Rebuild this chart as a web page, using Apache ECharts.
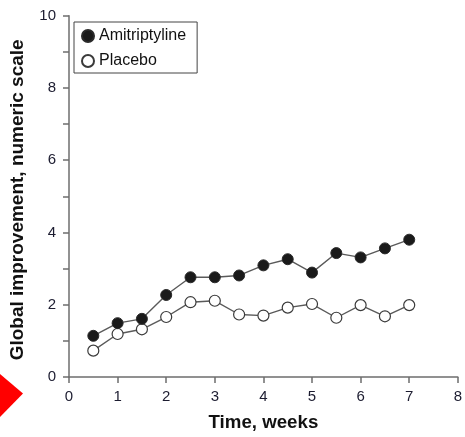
<!DOCTYPE html>
<html>
<head>
<meta charset="utf-8">
<script src="https://cdn.jsdelivr.net/npm/echarts@6/dist/echarts.min.js"></script>
<style>html,body{margin:0;padding:0;background:#fff;}#c{width:465px;height:437px;}</style>
</head>
<body>
<div id="c"></div>
<script>
const weeks = [0.5, 1, 1.5, 2, 2.5, 3, 3.5, 4, 4.5, 5, 5.5, 6, 6.5, 7];
const amitriptyline = [1.14, 1.49, 1.61, 2.27, 2.76, 2.76, 2.81, 3.09, 3.26, 2.89, 3.43, 3.31, 3.56, 3.80];
const placebo = [0.73, 1.19, 1.32, 1.66, 2.07, 2.11, 1.73, 1.70, 1.92, 2.02, 1.64, 1.99, 1.68, 1.99];
const yLabels = [0, 2, 4, 6, 8, 10];

const chart = echarts.init(document.getElementById('c'));
const axisColor = '#6e6e6e';
const labelColor = '#1c1c30';
chart.setOption({
  animation: false,
  backgroundColor: '#fff',
  grid: { left: 68.7, right: 3.5, top: 15.7, bottom: 53.3, containLabel: false },
  legend: {
    left: 74, top: 22, orient: 'vertical',
    backgroundColor: '#fff',
    borderColor: '#444', borderWidth: 1,
    padding: [5, 11, 3, 7],
    itemGap: 7,
    itemWidth: 12, itemHeight: 12,
    textStyle: { fontFamily: 'Liberation Sans, Arial', fontSize: 16, color: '#111', lineHeight: 18 },
    data: [
      { name: 'Amitriptyline', icon: 'circle' },
      { name: 'Placebo', icon: 'circle' }
    ]
  },
  xAxis: {
    type: 'value', min: 0, max: 8, interval: 1,
    name: 'Time, weeks', nameLocation: 'middle', nameGap: 36,
    nameTextStyle: { fontFamily: 'Liberation Sans, Arial', fontWeight: 'bold', fontSize: 18.7, color: '#111' },
    axisLine: { show: true, lineStyle: { color: axisColor, width: 1.5 } },
    axisTick: { show: true, length: 6, lineStyle: { color: axisColor, width: 1.5 } },
    axisLabel: { margin: 12, fontFamily: 'Liberation Sans, Arial', fontSize: 15, color: labelColor, showMaxLabel: true, showMinLabel: true },
    splitLine: { show: false }
  },
  yAxis: {
    type: 'value', min: 0, max: 10, interval: 1,
    name: 'Global improvement, numeric scale', nameLocation: 'middle', nameGap: 42,
    nameTextStyle: { fontFamily: 'Liberation Sans, Arial', fontWeight: 'bold', fontSize: 19, color: '#111', padding: [0, 7, 0, 0] },
    axisLine: { show: true, lineStyle: { color: axisColor, width: 1.5 } },
    axisTick: { show: true, length: 6, lineStyle: { color: axisColor, width: 1.5 } },
    axisLabel: {
      margin: 13, fontFamily: 'Liberation Sans, Arial', fontSize: 15, color: labelColor,
      formatter: v => (yLabels.indexOf(v) >= 0 ? String(v) : '')
    },
    splitLine: { show: false }
  },
  series: [
    {
      name: 'Amitriptyline', type: 'line',
      data: weeks.map((w, i) => [w, amitriptyline[i]]),
      symbol: 'circle', symbolSize: 11,
      lineStyle: { color: '#5a5a5a', width: 1.4 },
      itemStyle: { color: '#1a1a1a', borderColor: '#2a2a2a', borderWidth: 1 },
      z: 3
    },
    {
      name: 'Placebo', type: 'line',
      data: weeks.map((w, i) => [w, placebo[i]]),
      symbol: 'circle', symbolSize: 11,
      lineStyle: { color: '#5a5a5a', width: 1.4 },
      itemStyle: { color: '#ffffff', borderColor: '#3a3a3a', borderWidth: 1.2 },
      z: 2
    }
  ],
  graphic: [
    {
      type: 'polygon',
      shape: { points: [[0, 374], [23, 393.5], [0, 417]] },
      style: { fill: '#ff0000' },
      silent: true
    }
  ]
});
</script>
</body>
</html>
